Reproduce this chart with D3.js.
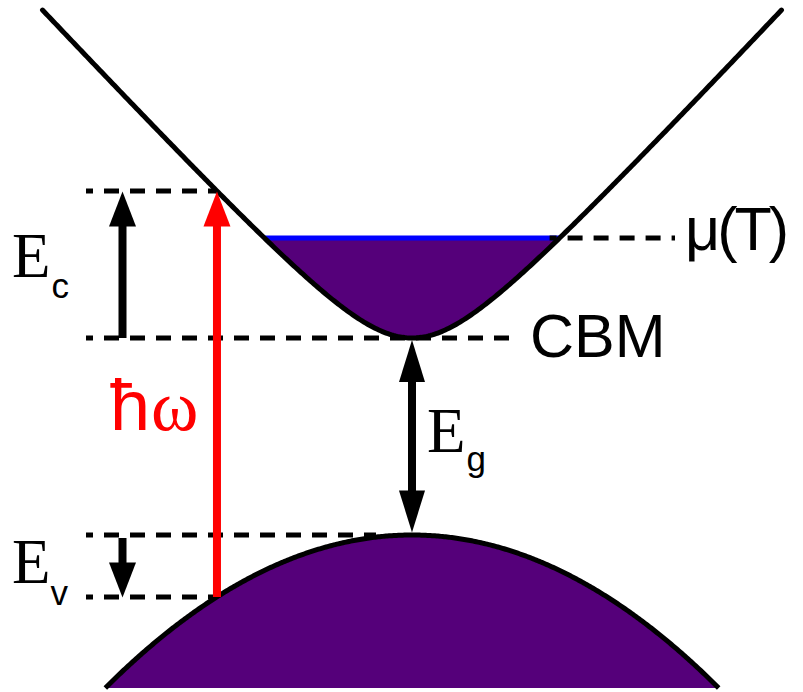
<!DOCTYPE html>
<html>
<head>
<meta charset="utf-8">
<script src="https://cdn.jsdelivr.net/npm/d3@7"></script>
<style>
  html, body { margin: 0; padding: 0; background: #fff; }
  svg { display: block; }
</style>
</head>
<body>
<svg id="chart" width="803" height="692"></svg>
<script>
// Energy levels (arbitrary energy units, conduction band minimum = 0)
const bandGap = [1.97];          // CBM to VBM
const chemPotential = [1.0];     // μ(T) above CBM
const excessElectron = [1.47];   // E_c: final state above CBM
const bottomEnergy = [-3.5];     // lower edge of the drawing

// Band dispersion parameters
const conductionBand = [0.751, 3.96];  // [non-parabolicity m, velocity v]: E = sqrt(m² + (v k)²) − m
const valenceBand = [2.221];           // curvature a: E = −Eg − a k²

const kDomain = [-1, 1];

const svg = d3.select("#chart");
const x = d3.scaleLinear().domain(kDomain).range([42.5, 781.5]);
const y = d3.scaleLinear().domain([0, 1]).range([338, 238]);

const purple = "#55007a";
const red = "#ff0000";

const Ecb = k => Math.sqrt(conductionBand[0] ** 2 + (conductionBand[1] * k) ** 2) - conductionBand[0];
const Evb = k => -bandGap[0] - valenceBand[0] * k * k;

// k where each band reaches a given energy
const kAtCB = E => Math.sqrt((E + conductionBand[0]) ** 2 - conductionBand[0] ** 2) / conductionBand[1];
const kAtVB = E => Math.sqrt((-bandGap[0] - E) / valenceBand[0]);

const kMu = kAtCB(chemPotential[0]);
const kOpt = -kAtCB(excessElectron[0]);
const evLevel = Evb(kOpt);
const kVBedge = kAtVB(bottomEnergy[0]);

const line = d3.line().x(d => x(d[0])).y(d => y(d[1]));
const sample = (k0, k1, f, n = 400) => d3.range(n + 1).map(i => { const k = k0 + (k1 - k0) * i / n; return [k, f(k)]; });

// Filled electron pocket in the conduction band up to μ
const pocket = sample(-kMu, kMu, Ecb);
svg.append("path")
  .attr("d", line(pocket) + "Z")
  .attr("fill", purple);

// Filled valence band
const vb = sample(-kVBedge, kVBedge, Evb);
svg.append("path")
  .attr("d", d3.area().x(d => x(d[0])).y0(y(bottomEnergy[0])).y1(d => y(d[1]))(vb))
  .attr("fill", purple);

// Fermi level inside the band
svg.append("line")
  .attr("x1", x(-kMu)).attr("x2", x(kMu))
  .attr("y1", y(chemPotential[0])).attr("y2", y(chemPotential[0]))
  .attr("stroke", "#0000ff").attr("stroke-width", 5);

// Dashed reference levels
const left = 86;
const dashed = [
  [left, x(kOpt), excessElectron[0]],
  [left, 518, 0],
  [x(kMu) - 10, 675, chemPotential[0]],
  [left, 376, -bandGap[0]],
  [left, x(kOpt), evLevel]
];
svg.append("g").selectAll("line").data(dashed).join("line")
  .attr("x1", d => d[0]).attr("x2", d => d[1])
  .attr("y1", d => y(d[2])).attr("y2", d => y(d[2]))
  .attr("stroke", "#000").attr("stroke-width", 5)
  .attr("stroke-dasharray", "15,11").attr("stroke-dashoffset", 8);

// Band curves
svg.append("path")
  .attr("d", line(sample(kDomain[0], kDomain[1], Ecb)))
  .attr("fill", "none").attr("stroke", "#000").attr("stroke-width", 5)
  .attr("stroke-linecap", "round");
svg.append("path")
  .attr("d", line(vb))
  .attr("fill", "none").attr("stroke", "#000").attr("stroke-width", 5);

// Arrows
function arrow(xp, yFrom, yTo, color, headLen = 35, headW = 27, shaftW = 8, both = false) {
  const g = svg.append("g");
  const dir = Math.sign(yTo - yFrom);
  const s0 = both ? yFrom + dir * headLen : yFrom;
  const s1 = yTo - dir * headLen;
  g.append("line").attr("x1", xp).attr("x2", xp).attr("y1", s0).attr("y2", s1 + dir)
    .attr("stroke", color).attr("stroke-width", shaftW);
  const head = (tip, d) => [[xp, tip], [xp - headW / 2, tip - d * headLen], [xp + headW / 2, tip - d * headLen]];
  g.append("polygon").attr("points", head(yTo, dir).join(" ")).attr("fill", color);
  if (both) g.append("polygon").attr("points", head(yFrom, -dir).join(" ")).attr("fill", color);
}
const xArrow = 122.5;
arrow(xArrow, y(0), y(excessElectron[0]) + 0.5, "#000");
arrow(xArrow, y(-bandGap[0]) + 3, y(evLevel) + 0.5, "#000");
arrow(x(0), y(0) + 2, y(-bandGap[0]) - 2.5, "#000", 42, 26, 8, true);
arrow(x(kOpt), y(evLevel), y(excessElectron[0]) + 0.5, red);

// Labels
const serif = "'Liberation Serif', 'Times New Roman', serif";
const sans = "'Liberation Sans', Arial, sans-serif";

function subLabel(xp, yp, main, sub, dxSub, dySub) {
  const t = svg.append("text").attr("x", xp).attr("y", yp).attr("fill", "#000");
  t.append("tspan").attr("font-family", serif).attr("font-size", 63).text(main);
  t.append("tspan").attr("font-family", sans).attr("font-size", 35)
    .attr("dx", dxSub).attr("dy", dySub).text(sub);
}
subLabel(12, 277, "E", "c", 1, 21);
subLabel(12, 583, "E", "v", 0, 22);
subLabel(427, 452, "E", "g", 1, 19);

const hw = svg.append("text").attr("x", 110).attr("y", 430).attr("fill", red);
hw.append("tspan").attr("font-family", sans).attr("font-size", 72).text("ħ");
hw.append("tspan").attr("font-family", serif).attr("font-size", 72).attr("dx", 1).text("ω");

svg.append("text").attr("x", 530).attr("y", 357)
  .attr("font-family", sans).attr("font-size", 61).text("CBM");

svg.append("text").attr("x", 685).attr("y", 250)
  .attr("font-family", sans).attr("font-size", 61).attr("letter-spacing", -3).text("μ(T)");
</script>
</body>
</html>
